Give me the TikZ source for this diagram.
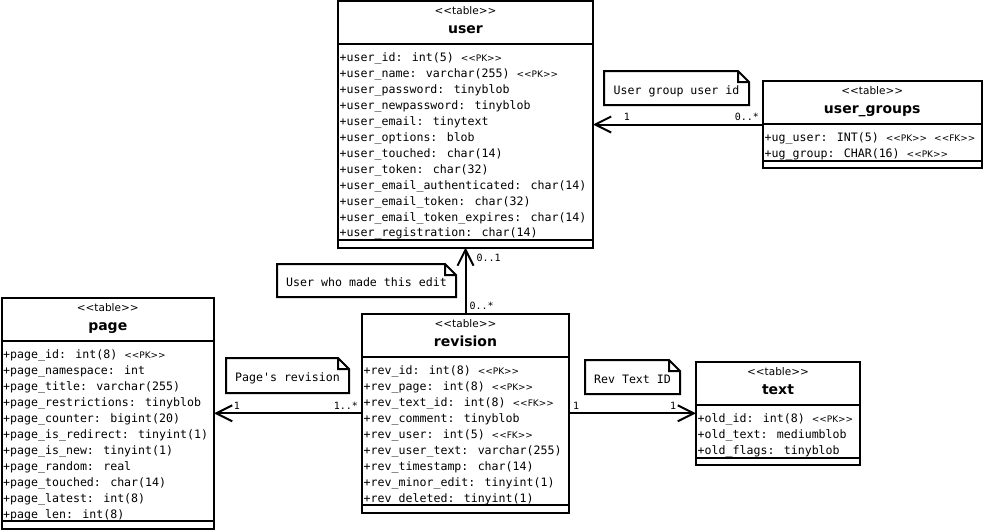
\documentclass[tikz,border=0pt]{standalone}
\usepackage{fontspec}
\setmainfont{DejaVu Sans}
\newfontfamily\monofnt{DejaVu Sans Mono}
\newfontfamily\sansfnt{DejaVu Sans}
\usetikzlibrary{arrows.meta,positioning}
\newcommand{\stmark}[1]{{\sansfnt\fontsize{9}{9}\selectfont <<#1>>}}
\newcommand{\notefold}[1]{\draw[notefrm] (#1.north west) -- ([xshift=-11pt]#1.north east) -- ([yshift=-11pt]#1.north east) -- (#1.south east) -- (#1.south west) -- cycle ([xshift=-11pt]#1.north east) |- ([yshift=-11pt]#1.north east);}
\begin{document}
\begin{tikzpicture}[x=1pt,y=-1pt,
  tbl/.style={draw,line width=2pt,outer sep=0pt,inner sep=0pt,anchor=north west},
  sepline/.style={line width=2pt},
  stereo/.style={anchor=base,inner sep=0pt,font=\sansfnt\fontsize{10.5}{10.5}\selectfont},
  ttl/.style={anchor=base,inner sep=0pt,font=\bfseries\fontsize{14}{14}\selectfont},
  attr/.style={anchor=base west,inner sep=0pt,font=\monofnt\fontsize{11.6}{14}\selectfont},
  note/.style={anchor=north west,inner xsep=0pt,inner ysep=0pt,outer sep=0pt,minimum height=34pt,text height=15pt,text depth=3pt,font=\monofnt\fontsize{11.6}{14}\selectfont},
  notefrm/.style={line width=2pt},
  mult/.style={inner sep=3pt,font=\monofnt\fontsize{10}{10}\selectfont},
  assoc/.style={line width=2pt,-{Straight Barb[length=16pt,width=16pt]}}]
\useasboundingbox (0,0) rectangle (983,531);

% user
\node[tbl,minimum width=255,minimum height=246.5] (user) at (338,1) {};
\node[stereo] (user st) at ([yshift=-13.5pt]user.north) {<<table>>};
\node[ttl] (user t) at ([yshift=-32.5pt]user.north) {user};
\draw[sepline] ([yshift=-43pt]user.north west) -- ([yshift=-43pt]user.north east);
\draw[sepline] ([yshift=7.5pt]user.south west) -- ([yshift=7.5pt]user.south east);
\foreach \a [count=\i from 0] in {+user\_id: int(5) \stmark{PK},
  +user\_name: varchar(255) \stmark{PK},
  +user\_password: tinyblob,
  +user\_newpassword: tinyblob,
  +user\_email: tinytext,
  +user\_options: blob,
  +user\_touched: char(14),
  +user\_token: char(32),
  +user\_email\_authenticated: char(14),
  +user\_email\_token: char(32),
  +user\_email\_token\_expires: char(14),
  +user\_registration: char(14)}
  \node[attr] (user a\i) at ([xshift=1.5pt,yshift={-60.5pt-15.95pt*\i}]user.north west) {\a};

% user_groups
\node[tbl,minimum width=218.5,minimum height=87] (ugroups) at (763,81) {};
\node[stereo] (ugroups st) at ([yshift=-13.5pt]ugroups.north) {<<table>>};
\node[ttl] (ugroups t) at ([yshift=-32.5pt]ugroups.north) {user\_groups};
\draw[sepline] ([yshift=-43pt]ugroups.north west) -- ([yshift=-43pt]ugroups.north east);
\draw[sepline] ([yshift=7.5pt]ugroups.south west) -- ([yshift=7.5pt]ugroups.south east);
\foreach \a [count=\i from 0] in {+ug\_user: INT(5) \stmark{PK} \stmark{FK},
  +ug\_group: CHAR(16) \stmark{PK}}
  \node[attr] (ugroups a\i) at ([xshift=1.5pt,yshift={-60.5pt-15.95pt*\i}]ugroups.north west) {\a};

% page
\node[tbl,minimum width=212.5,minimum height=230.5] (page) at (1.5,298) {};
\node[stereo] (page st) at ([yshift=-13.5pt]page.north) {<<table>>};
\node[ttl] (page t) at ([yshift=-32.5pt]page.north) {page};
\draw[sepline] ([yshift=-43pt]page.north west) -- ([yshift=-43pt]page.north east);
\draw[sepline] ([yshift=7.5pt]page.south west) -- ([yshift=7.5pt]page.south east);
\foreach \a [count=\i from 0] in {+page\_id: int(8) \stmark{PK},
  +page\_namespace: int,
  +page\_title: varchar(255),
  +page\_restrictions: tinyblob,
  +page\_counter: bigint(20),
  +page\_is\_redirect: tinyint(1),
  +page\_is\_new: tinyint(1),
  +page\_random: real,
  +page\_touched: char(14),
  +page\_latest: int(8),
  +page\_len: int(8)}
  \node[attr] (page a\i) at ([xshift=1.5pt,yshift={-60.5pt-15.95pt*\i}]page.north west) {\a};

% revision
\node[tbl,minimum width=207,minimum height=198.6] (revision) at (362,314) {};
\node[stereo] (revision st) at ([yshift=-13.5pt]revision.north) {<<table>>};
\node[ttl] (revision t) at ([yshift=-32.5pt]revision.north) {revision};
\draw[sepline] ([yshift=-43pt]revision.north west) -- ([yshift=-43pt]revision.north east);
\draw[sepline] ([yshift=7.5pt]revision.south west) -- ([yshift=7.5pt]revision.south east);
\foreach \a [count=\i from 0] in {+rev\_id: int(8) \stmark{PK},
  +rev\_page: int(8) \stmark{PK},
  +rev\_text\_id: int(8) \stmark{FK},
  +rev\_comment: tinyblob,
  +rev\_user: int(5) \stmark{FK},
  +rev\_user\_text: varchar(255),
  +rev\_timestamp: char(14),
  +rev\_minor\_edit: tinyint(1),
  +rev\_deleted: tinyint(1)}
  \node[attr] (revision a\i) at ([xshift=1.5pt,yshift={-60.5pt-15.95pt*\i}]revision.north west) {\a};

% text
\node[tbl,minimum width=164,minimum height=103] (oldtext) at (696,362) {};
\node[stereo] (oldtext st) at ([yshift=-13.5pt]oldtext.north) {<<table>>};
\node[ttl] (oldtext t) at ([yshift=-32.5pt]oldtext.north) {text};
\draw[sepline] ([yshift=-43pt]oldtext.north west) -- ([yshift=-43pt]oldtext.north east);
\draw[sepline] ([yshift=7.5pt]oldtext.south west) -- ([yshift=7.5pt]oldtext.south east);
\foreach \a [count=\i from 0] in {+old\_id: int(8) \stmark{PK},
  +old\_text: mediumblob,
  +old\_flags: tinyblob}
  \node[attr] (oldtext a\i) at ([xshift=1.5pt,yshift={-60.5pt-15.95pt*\i}]oldtext.north west) {\a};

% notes
\node[note,minimum width=145] (ugnote) at (604,71) {User group user id};
\notefold{ugnote}
\node[note,minimum width=179,minimum height=33] (editnote) at (277,264) {User who made this edit};
\notefold{editnote}
\node[note,minimum width=123,minimum height=35] (pagenote) at (226,358) {Page's revision};
\notefold{pagenote}
\node[note,minimum width=95] (textnote) at (585,360) {Rev Text ID};
\notefold{textnote}

% associations
\draw[assoc] (ugroups.west) -- (ugroups.west -| user.east)
  node[mult,at start,above left] (ug m1) {0..*}
  node[mult,pos=0.8,above] (ug m2) {1};
\draw[assoc] (revision.north) -- (user.south)
  node[mult,at start,above right] (ru m1) {0..*}
  node[mult,pos=0.85,right=7pt] (ru m2) {0..1};
\draw[assoc] (revision.west) -- (revision.west -| page.east)
  node[mult,at start,above left] (rp m1) {1..*}
  node[mult,pos=0.845,above] (rp m2) {1};
\draw[assoc] (revision.east) -- (revision.east -| oldtext.west)
  node[mult,at start,above right] (rt m1) {1}
  node[mult,pos=0.82,above] (rt m2) {1};
\end{tikzpicture}
\end{document}
